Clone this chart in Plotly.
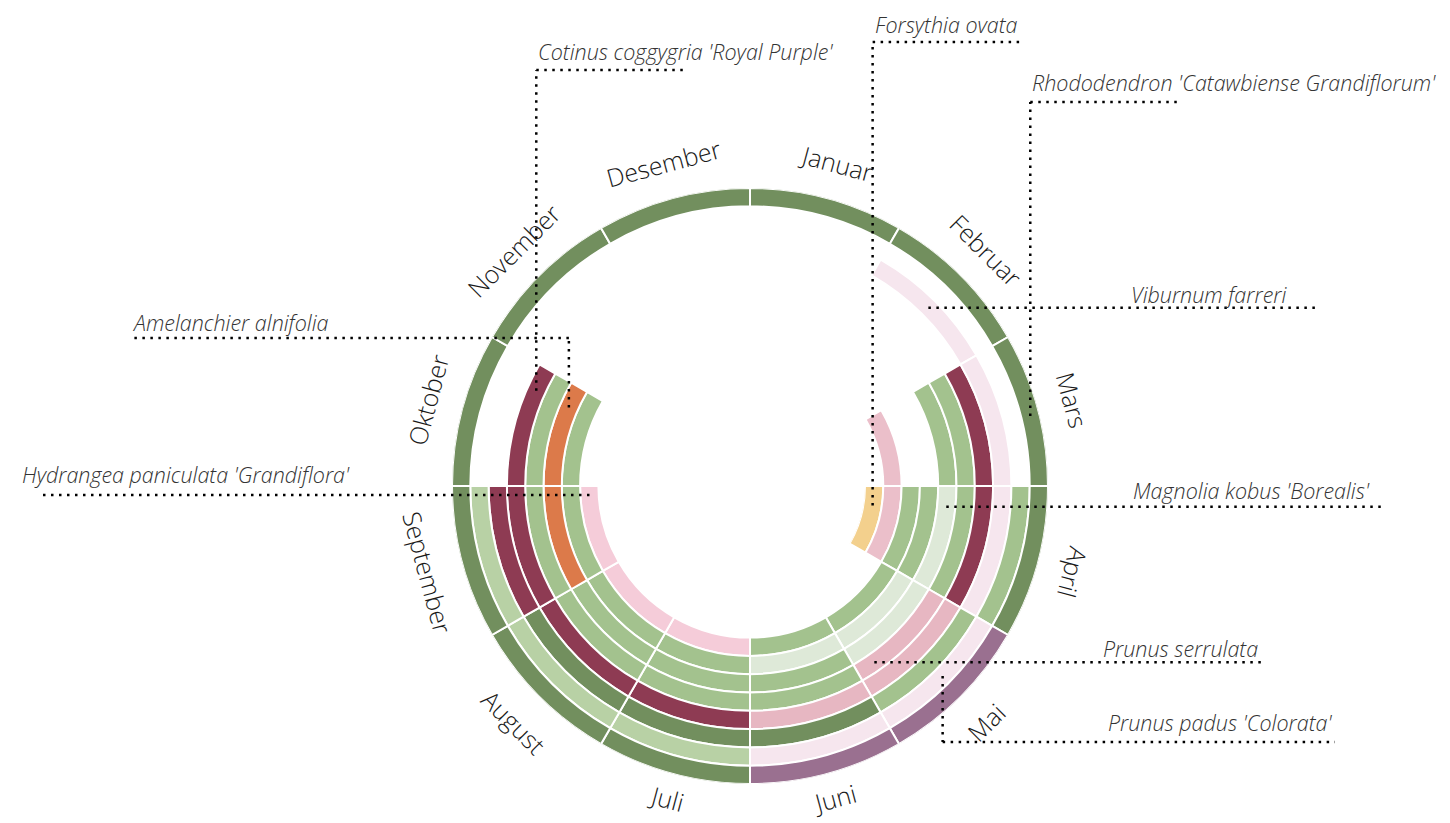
import math
import plotly.graph_objects as go

W, H = 1450, 823
PAGE_MARGIN = 8            # the page body margin shifts the figure in the screenshot
CX, CY = 750, 486          # centre of the wheel, px (screen)
R_OUT, R_IN = 298, 115     # outer edge of ring 9 / inner edge of ring 0, px
N_RINGS = 10
RING_W = (R_OUT - R_IN) / N_RINGS

months = ["Januar", "Februar", "Mars", "April", "Mai", "Juni",
          "Juli", "August", "September", "Oktober", "November", "Desember"]

# one string per ring (inner -> outer), one char per month Jan..Des, '.' = nothing shown
ring_plants = [
    "Forsythia ovata",
    "Ring 2",
    "Hydrangea paniculata 'Grandiflora'",
    "Ring 4",
    "Amelanchier alnifolia",
    "Prunus serrulata",
    "Cotinus coggygria 'Royal Purple'",
    "Viburnum farreri",
    "Prunus padus 'Colorata'",
    "Rhododendron 'Catawbiense Grandiflorum'",
]
ring_phases = [
    "...Y........",
    "..RR........",
    "...GGGHHH...",
    "...GWWGGGG..",
    "..GWWGGGOO..",
    "..GGPGGGGG..",
    "..MMPPMMMM..",
    ".VVVGEEEM...",
    "...GVVLLL...",
    "EEEEUUEEEEEE",
]

phase_colors = {
    "E": "#728f5e",  # dark / evergreen foliage
    "G": "#a3c28e",  # foliage
    "L": "#b8d1a5",  # pale foliage
    "W": "#dee9d8",  # white bloom
    "M": "#8e3b53",  # purple foliage
    "P": "#e7b7c2",  # pink bloom
    "R": "#ebbfca",  # pink bloom
    "H": "#f5ccd9",  # hydrangea pink
    "V": "#f6e6ee",  # pale pink bloom
    "Y": "#f3d08d",  # yellow bloom
    "O": "#dc7a4a",  # autumn orange
    "U": "#9a7090",  # lilac bloom
}

# callouts: label, ring, angle (deg, clockwise from top), leader style, params (screen px)
callouts = [
    ("Cotinus coggygria 'Royal Purple'", 6, 294.0, "up", dict(line_y=70, text_y=51)),
    ("Forsythia ovata", 0, 99.0, "up", dict(line_y=42, text_y=24)),
    ("Rhododendron 'Catawbiense Grandiflorum'", 9, 76.0, "up", dict(line_y=102, text_y=82)),
    ("Amelanchier alnifolia", 4, 293.4, "upleft", dict(line_y=338, x_end=130, text_y=322)),
    ("Hydrangea paniculata 'Grandiflora'", 2, 266.8, "left", dict(x_end=40, text_x=20, text_y=475)),
    ("Viburnum farreri", 7, 45.0, "right", dict(x_end=1315, text_x=1289, text_y=294)),
    ("Magnolia kobus 'Borealis'", 4, 96.0, "right", dict(x_end=1385, text_x=1372, text_y=490)),
    ("Prunus serrulata", 5, 144.8, "right", dict(x_end=1262, text_x=1260, text_y=648)),
    ("Prunus padus 'Colorata'", 8, 134.6, "downright", dict(line_y=742, x_end=1335, text_x=1334, text_y=722)),
]


def px(x, y):
    return (x - PAGE_MARGIN) / W, 1 - (y - PAGE_MARGIN) / H


def wheel_xy(r, ang):
    a = math.radians(ang)
    return CX + r * math.sin(a), CY - r * math.cos(a)


fig = go.Figure()
for i, (name, phases) in enumerate(zip(ring_plants, ring_phases)):
    idx = [k for k, c in enumerate(phases) if c != "."]
    fig.add_trace(go.Barpolar(
        name=name,
        theta=[months[k] for k in idx],
        r=[1] * len(idx),
        base=[i] * len(idx),
        marker=dict(color=[phase_colors[phases[k]] for k in idx],
                    line=dict(color="white", width=2)),
        hovertemplate=name + "<br>%{theta}<extra></extra>",
    ))

dx0, dy0 = px(CX - R_OUT, CY + R_OUT)
dx1, dy1 = px(CX + R_OUT, CY - R_OUT)
fig.update_layout(
    width=W, height=H, autosize=False,
    margin=dict(l=0, r=0, t=0, b=0),
    paper_bgcolor="white",
    showlegend=False,
    polar=dict(
        domain=dict(x=[dx0, dx1], y=[dy0, dy1]),
        hole=R_IN / R_OUT,
        bgcolor="white",
        barmode="overlay",
        bargap=0,
        radialaxis=dict(range=[0, N_RINGS], visible=False),
        angularaxis=dict(type="category", categoryorder="array", categoryarray=months,
                         rotation=75, direction="clockwise", visible=False),
    ),
)

label_font = dict(family="Open Sans, Lato, sans-serif", size=25, color="#1a1a1a", weight=300)
for k, m in enumerate(months):
    ang = 15 + 30 * k
    r_lab = 323 if 150 < ang < 210 else 334
    x, y = wheel_xy(r_lab, ang)
    if ang <= 120:
        rot = ang
    elif ang < 270:
        rot = ang - 180
    else:
        rot = ang - 360
    xp, yp = px(x, y)
    fig.add_annotation(x=xp, y=yp, xref="paper", yref="paper", text=m, showarrow=False,
                       textangle=rot, xanchor="center", yanchor="middle", font=label_font)

dot_line = dict(color="black", width=2.5, dash="2.5px,5.5px")
plant_font = dict(family="Open Sans, Lato, sans-serif", size=21.5, color="#333333",
                  style="italic", weight=300)


def seg(x0, y0, x1, y1):
    a0, b0 = px(x0, y0)
    a1, b1 = px(x1, y1)
    fig.add_shape(type="line", xref="paper", yref="paper", x0=a0, y0=b0, x1=a1, y1=b1,
                  line=dot_line)


for label, ring, ang, style, p in callouts:
    ex, ey = wheel_xy(R_IN + RING_W * (ring + 0.5), ang)
    if style == "up":
        seg(ex, ey, ex, p["line_y"])
        seg(ex, p["line_y"], ex + 150, p["line_y"])
        tx, anchor = ex, "left"
    elif style == "upleft":
        seg(ex, ey, ex, p["line_y"])
        seg(ex, p["line_y"], p["x_end"], p["line_y"])
        tx, anchor = p["x_end"], "left"
    elif style == "left":
        seg(ex, ey, p["x_end"], ey)
        tx, anchor = p["text_x"], "left"
    elif style == "right":
        seg(ex, ey, p["x_end"], ey)
        tx, anchor = p["text_x"], "right"
    else:  # downright
        seg(ex, ey, ex, p["line_y"])
        seg(ex, p["line_y"], p["x_end"], p["line_y"])
        tx, anchor = p["text_x"], "right"
    xp, yp = px(tx, p["text_y"])
    fig.add_annotation(x=xp, y=yp, xref="paper", yref="paper", text=label, showarrow=False,
                       xanchor=anchor, yanchor="middle", font=plant_font)

fig.write_html("out.html")
